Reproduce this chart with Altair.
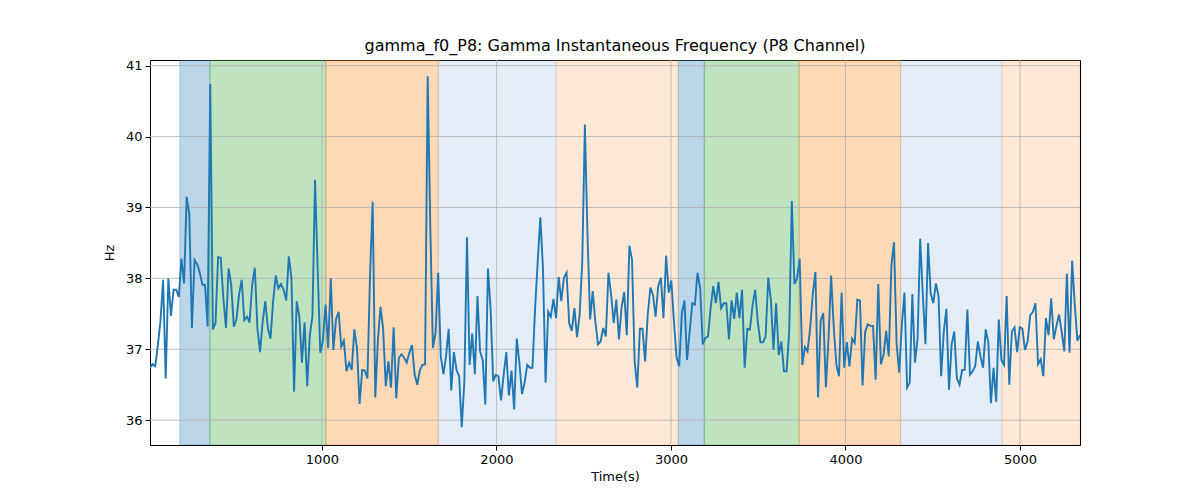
import altair as alt
import pandas as pd

title_text = "gamma_f0_P8: Gamma Instantaneous Frequency (P8 Channel)"

hz_values = [
    36.74, 36.79, 36.76, 37.06, 37.4, 37.98, 36.59, 38.0, 37.47, 37.84,
    37.84, 37.74, 38.28, 37.93, 39.15, 38.9, 37.3, 38.26, 38.2, 38.08,
    37.91, 37.91, 37.32, 40.74, 37.28, 37.37, 38.3, 38.29, 37.72, 37.3,
    38.14, 37.91, 37.32, 37.42, 37.77, 37.98, 37.41, 37.46, 37.38, 37.91,
    38.15, 37.3, 36.96, 37.39, 37.68, 37.3, 37.15, 37.68, 38.04, 37.86,
    37.92, 37.84, 37.69, 38.31, 38.0, 36.4, 37.68, 37.46, 36.81, 37.38,
    36.48, 37.2, 37.46, 39.39, 38.14, 36.95, 37.12, 37.63, 37.02, 38.0,
    36.99, 37.42, 37.53, 37.04, 37.12, 36.69, 36.81, 36.71, 37.28, 37.02,
    36.23, 36.71, 36.7, 36.59, 38.05, 39.08, 36.32, 37.13, 37.6, 37.28,
    36.48, 36.83, 36.46, 37.31, 36.31, 36.88, 36.93, 36.88, 36.81, 36.95,
    37.06, 36.65, 36.5, 36.7, 36.78, 36.79, 40.85, 38.71, 37.02, 37.23,
    38.08, 36.9, 36.65, 36.9, 37.29, 36.42, 36.96, 36.71, 36.62,
    35.9, 36.55, 38.58, 36.78, 37.22, 36.65, 37.75, 36.97, 36.85, 36.22,
    38.14, 37.58, 36.55, 36.64, 36.62, 36.28, 36.64, 36.96, 36.35, 36.7,
    36.15, 37.15, 36.81, 36.37, 36.53, 36.78, 36.74, 36.74, 37.58, 38.24,
    38.86, 38.14, 36.53, 37.53, 37.46, 37.71, 37.44, 38.02, 37.68, 38.01,
    38.08, 37.37, 37.26, 37.58, 37.17, 37.49, 38.24, 40.17, 38.62, 37.42,
    37.82, 37.39, 37.07, 37.11, 37.3, 37.18, 38.08, 37.78, 37.37,
    37.7, 37.14, 37.58, 37.81, 37.2, 38.46, 38.26, 36.83, 36.46, 37.29,
    37.29, 36.83, 37.49, 37.87, 37.77, 37.46, 37.89, 38.01, 37.44, 38.32,
    37.8, 37.97, 37.39, 36.88, 36.76, 37.5, 37.69, 36.85, 37.25, 37.65,
    37.63, 38.08, 37.86, 37.07, 37.16, 37.18, 37.58, 37.89, 37.65, 37.95,
    37.58, 37.65, 37.65, 37.14, 37.69, 37.43, 37.8, 37.44, 37.84, 36.74,
    37.29, 37.28, 37.62, 37.84, 37.39, 37.1, 37.1, 37.18, 38.01,
    37.7, 36.99, 37.65, 36.92, 37.11, 36.69, 36.69, 37.25, 39.09, 37.92,
    38.0, 38.28, 36.78, 37.03, 36.97, 37.3, 37.78, 38.09, 36.32, 37.4,
    37.51, 36.46, 37.15, 38.04, 37.31, 36.78, 36.62, 37.8, 36.74, 37.1,
    36.76, 37.15, 37.09, 37.7, 37.69, 36.49, 37.25, 37.35, 37.33, 37.33,
    36.57, 37.92, 36.79, 36.92, 37.26, 36.9, 38.18, 38.51, 37.07, 36.67,
    37.35, 37.8, 36.46, 36.53, 37.78, 36.81, 37.15, 38.56, 37.77, 37.07,
    38.5, 37.79, 37.65, 37.93, 37.75, 36.62, 37.25, 37.57, 36.43, 37.07,
    37.25, 36.59, 36.5, 36.71, 36.71, 37.56, 36.64, 36.69, 36.76, 37.11,
    36.9, 36.74, 37.28, 37.1, 36.24, 36.74, 36.26, 37.42, 36.85, 36.78,
    37.75, 36.5, 37.25, 37.31, 36.96, 37.31, 37.29, 36.99, 37.11, 37.48,
    37.53, 37.65, 36.79, 36.86, 36.62, 37.44, 37.2, 37.72, 37.14, 37.33,
    37.49, 37.25, 36.97, 38.07, 36.95, 38.25, 37.63, 37.12, 37.2,
]

t_first = 15
t_last = 5344

band_start = [186, 358, 1023, 1667, 2343, 3042, 3191, 3735, 4316, 4897]
band_end = [358, 1023, 1667, 2343, 3042, 3191, 3735, 4316, 4897, 5344]
band_color = ["#1f77b4", "#2ca02c", "#ff7f0e", "#4b83c3", "#ff7f0e",
              "#1f77b4", "#2ca02c", "#ff7f0e", "#4b83c3", "#ff7f0e"]
band_alpha = [0.3, 0.3, 0.3, 0.15, 0.17, 0.3, 0.3, 0.3, 0.15, 0.17]

x_ticks = [1000, 2000, 3000, 4000, 5000]
y_ticks = [36, 37, 38, 39, 40, 41]

n = len(hz_values)
times = [t_first + (t_last - t_first) * i / (n - 1) for i in range(n)]
line_df = pd.DataFrame({"t": times, "hz": hz_values})
band_df = pd.DataFrame({"start": band_start, "end": band_end,
                        "color": band_color, "alpha": band_alpha})
xgrid_df = pd.DataFrame({"v": x_ticks})
ygrid_df = pd.DataFrame({"v": y_ticks})

FONT = "DejaVu Sans"
xscale = alt.Scale(domain=[t_first, t_last], nice=False, zero=False)
yscale = alt.Scale(domain=[35.65, 41.08], nice=False, zero=False)

xaxis = alt.Axis(values=x_ticks, title="Time(s)", grid=False, domain=False,
                 tickColor="black", tickSize=5, tickWidth=1,
                 labelFont=FONT, labelFontSize=13, labelColor="black",
                 labelPadding=3, titleFont=FONT, titleFontSize=13,
                 titleFontWeight="normal", titleColor="black",
                 titlePadding=4, format="d")
yaxis = alt.Axis(values=y_ticks, title="Hz", grid=False, domain=False,
                 tickColor="black", tickSize=5, tickWidth=1,
                 labelFont=FONT, labelFontSize=13, labelColor="black",
                 labelPadding=3, titleFont=FONT, titleFontSize=13,
                 titleFontWeight="normal", titleColor="black",
                 titlePadding=9, format="d")

bands = alt.Chart(band_df).mark_rect(strokeWidth=1, clip=True).encode(
    x=alt.X("start:Q", scale=xscale, axis=xaxis, title="Time(s)"),
    x2="end:Q",
    fill=alt.Fill("color:N", scale=None),
    stroke=alt.Stroke("color:N", scale=None),
    fillOpacity=alt.FillOpacity("alpha:Q", scale=None),
    strokeOpacity=alt.StrokeOpacity("alpha:Q", scale=None),
)

xgrid = alt.Chart(xgrid_df).mark_rule(color="#b0b0b0", strokeWidth=0.8).encode(
    x=alt.X("v:Q", scale=xscale, axis=xaxis, title="Time(s)"),
)
ygrid = alt.Chart(ygrid_df).mark_rule(color="#b0b0b0", strokeWidth=0.8).encode(
    y=alt.Y("v:Q", scale=yscale, axis=yaxis, title="Hz"),
)

line = alt.Chart(line_df).mark_line(color="#1f77b4", strokeWidth=1.9, clip=True).encode(
    x=alt.X("t:Q", scale=xscale, axis=xaxis, title="Time(s)"),
    y=alt.Y("hz:Q", scale=yscale, axis=yaxis, title="Hz"),
)

chart = alt.layer(bands, xgrid, ygrid, line).properties(
    width=930,
    height=385,
    autosize=alt.AutoSizeParams(type="none"),
    padding={"left": 142, "top": 52, "right": 112, "bottom": 47},
    title=alt.TitleParams(title_text, font=FONT, fontSize=16, fontWeight="normal",
                          color="black", anchor="middle", offset=6),
).configure_view(stroke="black", strokeWidth=1)

chart.save("out.html", embed_options={"renderer": "svg", "actions": False})
